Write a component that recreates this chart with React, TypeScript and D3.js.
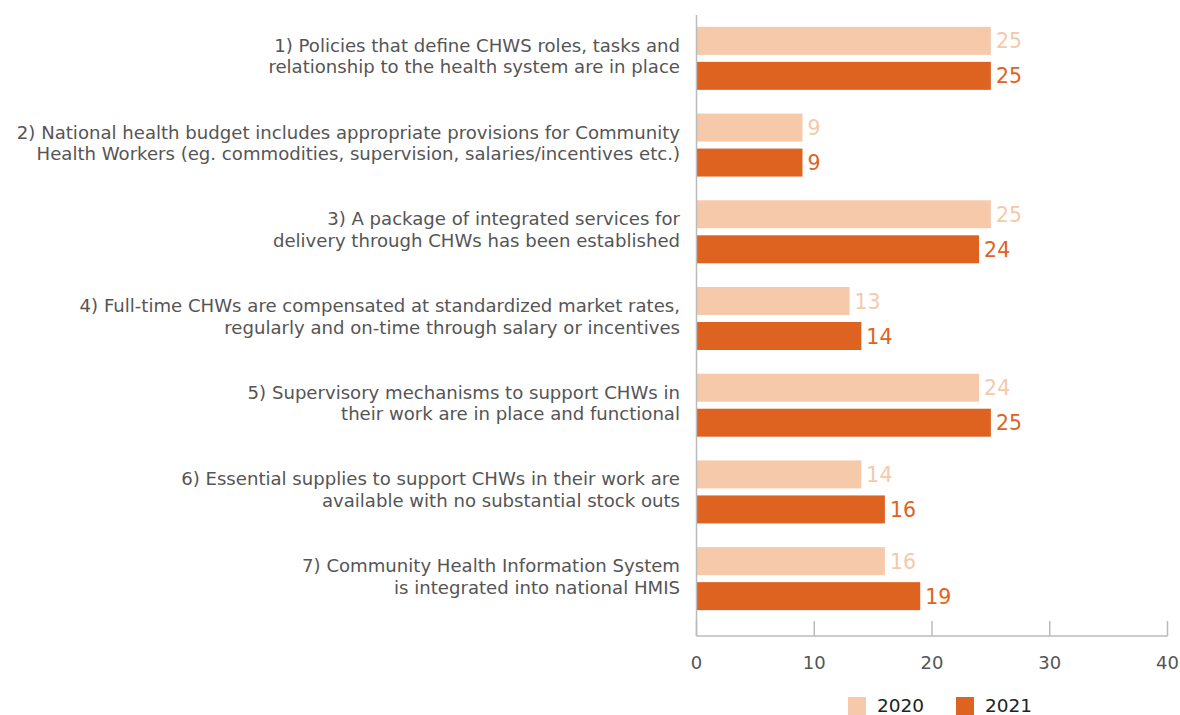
import React from 'react';
import * as d3 from 'd3';

const categories = [
  ['1) Policies that define CHWS roles, tasks and', 'relationship to the health system are in place'],
  ['2) National health budget includes appropriate provisions for Community', 'Health Workers (eg. commodities, supervision, salaries/incentives etc.)'],
  ['3) A package of integrated services for', 'delivery through CHWs has been established'],
  ['4) Full-time CHWs are compensated at standardized market rates,', 'regularly and on-time through salary or incentives'],
  ['5) Supervisory mechanisms to support CHWs in', 'their work are in place and functional'],
  ['6) Essential supplies to support CHWs in their work are', 'available with no substantial stock outs'],
  ['7) Community Health Information System', 'is integrated into national HMIS'],
];
const values2020 = [25, 9, 25, 13, 24, 14, 16];
const values2021 = [25, 9, 24, 14, 25, 16, 19];
const xTicks = [0, 10, 20, 30, 40];
const seriesNames = ['2020', '2021'];
const colors = ['#f5c9aa', '#df6320'];

const W = 1180;
const H = 715;
const FONT = '"DejaVu Sans", Verdana, sans-serif';

export default function App() {
  const x = d3.scaleLinear().domain([0, 40]).range([696.5, 1167.5]);
  const y = d3.scaleBand<number>().domain(d3.range(categories.length)).range([15, 622]);
  const barH = 28;
  const gap = 7;
  const series = [values2020, values2021];
  const axisY = 636;

  return (
    <svg width={W} height={H} style={{ position: 'absolute', left: 0, top: 0, fontFamily: FONT }}>
      {categories.map((lines, i) => {
        const cy = (y(i) as number) + y.bandwidth() / 2;
        return (
          <g key={i}>
            <text x={680} y={cy - 6.5} textAnchor="end" fontSize={18.1} fill="#555">
              {lines.map((l, j) => (
                <tspan key={j} x={680} dy={j === 0 ? 0 : 21.5}>{l}</tspan>
              ))}
            </text>
            {series.map((vals, s) => {
              const top = cy - barH - gap / 2 + s * (barH + gap);
              return (
                <g key={s}>
                  <rect x={x(0)} y={top} width={x(vals[i]) - x(0)} height={barH} fill={colors[s]} />
                  <text x={x(vals[i]) + 5} y={top + barH / 2 + 7.5} fontSize={20.5} fill={colors[s]}>
                    {vals[i]}
                  </text>
                </g>
              );
            })}
          </g>
        );
      })}
      <line x1={x(0)} x2={x(0)} y1={15} y2={axisY} stroke="#bbb" strokeWidth={1.5} />
      <line x1={x(0)} x2={x(40)} y1={axisY} y2={axisY} stroke="#bbb" strokeWidth={1.5} />
      {xTicks.map((t) => (
        <g key={t}>
          <line x1={x(t)} x2={x(t)} y1={621} y2={axisY} stroke="#bbb" strokeWidth={1.5} />
          <text x={x(t)} y={669} textAnchor="middle" fontSize={18} fill="#555">{t}</text>
        </g>
      ))}
      {seriesNames.map((n, s) => (
        <g key={n} transform={`translate(${848 + s * 108},697)`}>
          <rect x={0} y={0} width={18} height={18} fill={colors[s]} />
          <text x={29} y={15} fontSize={18.5} fill="#222">{n}</text>
        </g>
      ))}
    </svg>
  );
}
